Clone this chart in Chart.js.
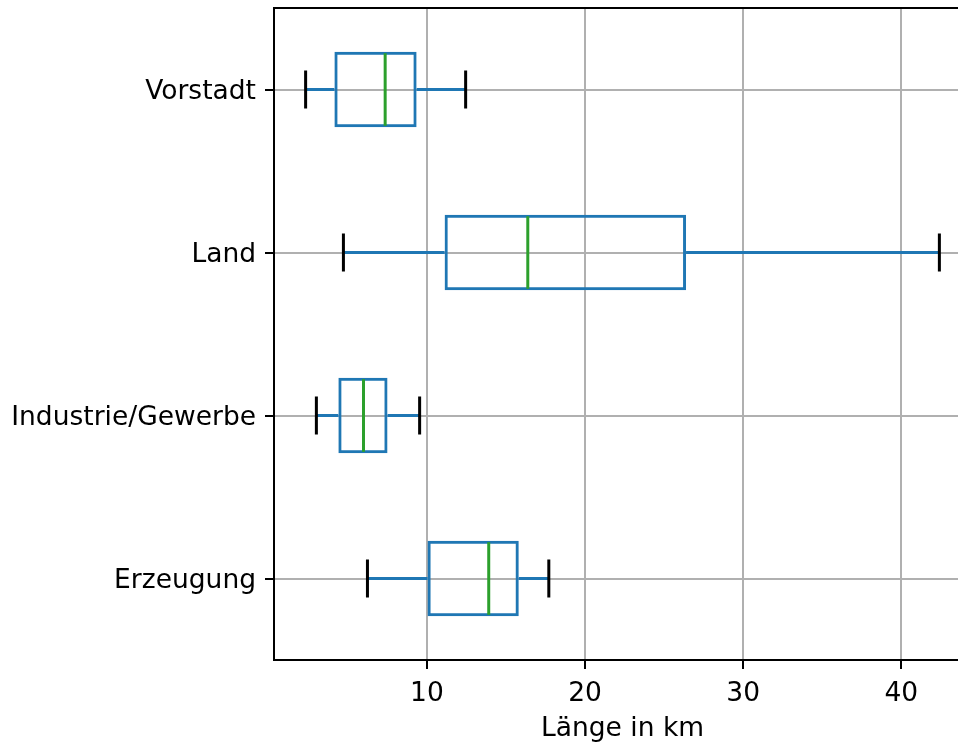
<!DOCTYPE html>
<html>
<head>
<meta charset="utf-8">
<script src="https://cdn.jsdelivr.net/npm/chart.js@4"></script>
<style>
  html, body { margin: 0; padding: 0; background: #fff; overflow: hidden; }
  #wrap { width: 958px; height: 742px; overflow: hidden; }
</style>
</head>
<body>
<div id="wrap"><canvas id="box-chart" width="972" height="742"></canvas></div>
<script>
const categories = ['Vorstadt', 'Land', 'Industrie/Gewerbe', 'Erzeugung'];
const whiskerLow = [2.33, 4.72, 3.01, 6.24];
const q1 = [4.15, 11.12, 4.40, 10.04];
const median = [7.36, 16.38, 5.99, 13.91];
const q3 = [9.35, 26.39, 7.51, 15.81];
const whiskerHigh = [12.45, 42.41, 9.54, 17.71];
const xTicks = [10, 20, 30, 40];

const blue = '#1f77b4';
const green = '#2ca02c';
const gridColor = '#b0b0b0';
const font = { family: 'DejaVu Sans', size: 26.5 };

// whiskers, caps, medians and the top/right frame
const boxExtras = {
    id: 'boxExtras',
    afterDatasetsDraw(chart) {
        const ctx = chart.ctx;
        const x = chart.scales.x;
        const y = chart.scales.y;
        const meta = chart.getDatasetMeta(0);
        ctx.save();
        ctx.lineCap = 'butt';
        categories.forEach(function (c, i) {
            const cy = y.getPixelForValue(i);
            const bar = meta.data[i];
            const half = bar.height / 2;
            ctx.lineWidth = 3;
            ctx.strokeStyle = blue;
            ctx.beginPath();
            ctx.moveTo(x.getPixelForValue(whiskerLow[i]), cy);
            ctx.lineTo(x.getPixelForValue(q1[i]), cy);
            ctx.moveTo(x.getPixelForValue(q3[i]), cy);
            ctx.lineTo(x.getPixelForValue(whiskerHigh[i]), cy);
            ctx.stroke();

            ctx.strokeStyle = '#000';
            ctx.beginPath();
            [whiskerLow[i], whiskerHigh[i]].forEach(function (v) {
                const px = x.getPixelForValue(v);
                ctx.moveTo(px, cy - half / 2);
                ctx.lineTo(px, cy + half / 2);
            });
            ctx.stroke();

            ctx.strokeStyle = green;
            ctx.beginPath();
            const mx = x.getPixelForValue(median[i]);
            ctx.moveTo(mx, cy - half + 1.5);
            ctx.lineTo(mx, cy + half - 1.5);
            ctx.stroke();
        });
        const a = chart.chartArea;
        ctx.strokeStyle = '#000';
        ctx.lineWidth = 2;
        ctx.beginPath();
        ctx.moveTo(a.left, a.top);
        ctx.lineTo(a.right, a.top);
        ctx.lineTo(a.right, a.bottom);
        ctx.stroke();
        ctx.restore();
    }
};

new Chart(document.getElementById('box-chart').getContext('2d'), {
    type: 'bar',
    data: {
        labels: categories,
        datasets: [{
            data: q1.map(function (v, i) { return [v, q3[i]]; }),
            backgroundColor: 'rgba(0,0,0,0)',
            borderColor: blue,
            borderWidth: 3,
            borderSkipped: false,
            barPercentage: 0.464,
            categoryPercentage: 1
        }]
    },
    options: {
        indexAxis: 'y',
        responsive: false,
        animation: false,
        layout: { padding: { top: 8, right: 1, left: 0, bottom: 0 } },
        plugins: {
            legend: { display: false },
            tooltip: { enabled: false }
        },
        scales: {
            x: {
                type: 'linear',
                min: 0.33,
                max: 44.41,
                afterBuildTicks: function (scale) {
                    scale.ticks = xTicks.map(function (v) { return { value: v }; });
                },
                afterFit: function (scale) {
                    scale.height = 82;
                    scale.paddingLeft = 0;
                    scale.paddingRight = 0;
                },
                grid: { color: gridColor, lineWidth: 2, tickColor: '#000', tickLength: 9 },
                border: { color: '#000', width: 2 },
                ticks: { color: '#000', font: font, padding: 9, maxRotation: 0 },
                title: { display: true, text: 'Länge in km', color: '#000', font: font, padding: { top: 0, bottom: -3 } }
            },
            y: {
                type: 'category',
                offset: true,
                afterFit: function (scale) {
                    scale.width = 274;
                    scale.paddingTop = 0;
                    scale.paddingBottom = 0;
                },
                grid: { color: gridColor, lineWidth: 2, tickColor: '#000', tickLength: 9, offset: false },
                border: { color: '#000', width: 2 },
                ticks: { color: '#000', font: font, padding: 9, labelOffset: 3 }
            }
        }
    },
    plugins: [boxExtras]
});
</script>
</body>
</html>
